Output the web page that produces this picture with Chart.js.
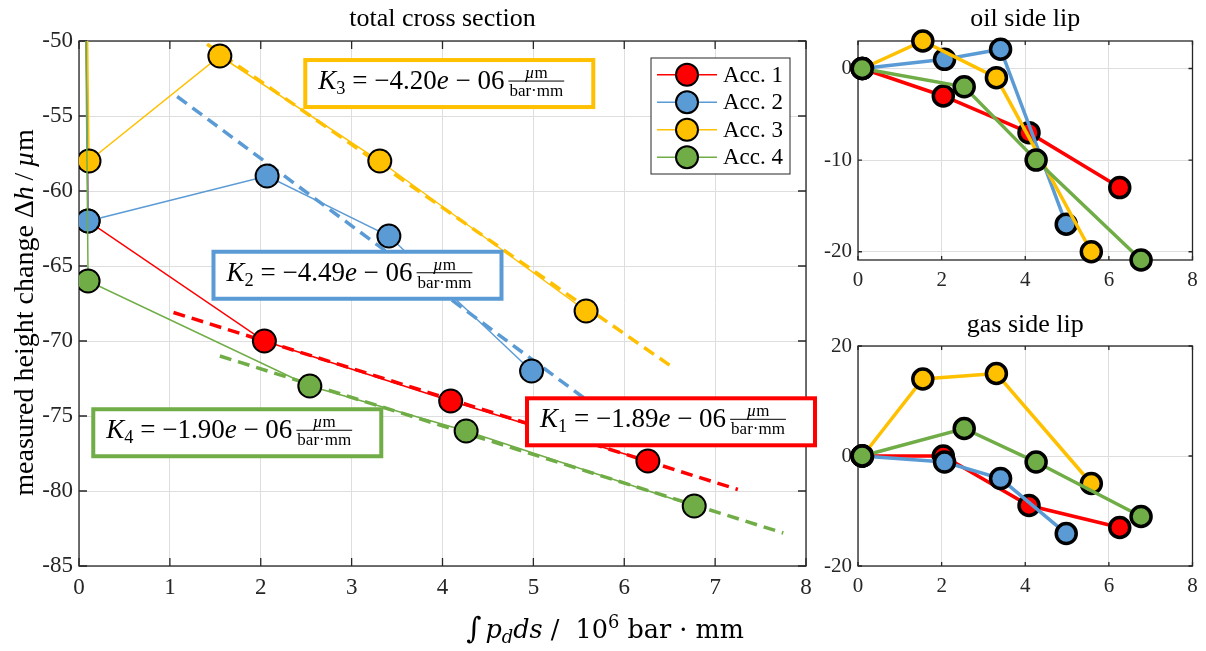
<!DOCTYPE html>
<html>
<head>
<meta charset="utf-8">
<script src="https://cdn.jsdelivr.net/npm/chart.js@4.4.1/dist/chart.umd.min.js"></script>
<style>
    body { margin: 0; background: #fff; width: 1206px; height: 651px; overflow: hidden; position: relative; }
    canvas { position: absolute; }
</style>
</head>
<body>
<canvas id="total" width="820" height="651" style="left:0;top:0"></canvas>
<canvas id="oil" width="406" height="300" style="left:800px;top:0"></canvas>
<canvas id="gas" width="406" height="351" style="left:800px;top:300px"></canvas>
<script>
/*----------------------------------------------------------------*/
// data (x in 10^6 bar*mm, heights in um)
const accLabels = ["Acc. 1", "Acc. 2", "Acc. 3", "Acc. 4"];
const accColors = ["#FF0000", "#5B9BD5", "#FFC000", "#70AD47"];

const xAcc1 = [0.1, 2.04, 4.09, 6.26];
const xAcc2 = [0.1, 2.07, 3.41, 4.98];
const xAcc3 = [0.11, 1.55, 3.31, 5.58];
const xAcc4 = [0.1, 2.54, 4.26, 6.77];

// total cross section, every series starts in (0, 0)
const startPoint = [0, 0];
const totalAcc1 = [-62, -70, -74, -78];
const totalAcc2 = [-62, -59, -63, -72];
const totalAcc3 = [-58, -51, -58, -68];
const totalAcc4 = [-66, -73, -76, -81];

// linear fits (dashed)
const fitX1 = [1.04, 7.25], fitY1 = [-68.1, -79.9];
const fitX2 = [1.08, 5.98], fitY2 = [-53.7, -75.7];
const fitX3 = [0.55, 6.52], fitY3 = [-46.6, -71.7];
const fitX4 = [1.55, 7.75], fitY4 = [-71.0, -82.8];
const kValues = [-1.89e-6, -4.49e-6, -4.20e-6, -1.90e-6];

const oilAcc1 = [0, -3, -7, -13];
const oilAcc2 = [0, 1, 2.1, -17];
const oilAcc3 = [0, 3, -1, -20];
const oilAcc4 = [0, -2, -10, -20.9];

const gasAcc1 = [0, 0, -9, -13];
const gasAcc2 = [0, -1.1, -4.1, -14.1];
const gasAcc3 = [0, 14, 15, -5];
const gasAcc4 = [0, 5, -1.1, -11];

const totalXTicks = [0, 1, 2, 3, 4, 5, 6, 7, 8];
const totalYTicks = [-85, -80, -75, -70, -65, -60, -55, -50];
const smallXTicks = [0, 2, 4, 6, 8];
const oilYTicks = [-20, -10, 0];
const gasYTicks = [-20, 0, 20];

const accX = [xAcc1, xAcc2, xAcc3, xAcc4];
const accTotal = [totalAcc1, totalAcc2, totalAcc3, totalAcc4];
const accOil = [oilAcc1, oilAcc2, oilAcc3, oilAcc4];
const accGas = [gasAcc1, gasAcc2, gasAcc3, gasAcc4];
const fitX = [fitX1, fitX2, fitX3, fitX4];
const fitY = [fitY1, fitY2, fitY3, fitY4];

// K boxes, top-left corner in data units of the big plot
const kBoxAt = [[4.93, -73.82], [1.48, -64.05], [2.49, -51.27], [0.157, -74.55]];

/*----------------------------------------------------------------*/
const SERIF = "'Liberation Serif', 'Times New Roman', serif";
const AXIS = '#262626';
Chart.defaults.font.family = SERIF;
Chart.defaults.color = AXIS;
Chart.defaults.animation = false;

function setFont(ctx, size, italic, family) {
    ctx.font = (italic ? 'italic ' : '') + size + 'px ' + (family || SERIF);
}
function runsWidth(ctx, runs, size, family) {
    let w = 0;
    runs.forEach(r => { setFont(ctx, size * (r.s || 1), r.i, family); w += ctx.measureText(r.t).width; });
    return w;
}
function drawRuns(ctx, runs, x, y, size, family) {
    ctx.textAlign = 'left';
    ctx.textBaseline = 'alphabetic';
    runs.forEach(r => {
        setFont(ctx, size * (r.s || 1), r.i, family);
        ctx.fillText(r.t, x, y + (r.dy || 0));
        x += ctx.measureText(r.t).width;
    });
    return x;
}
function pts(xs, ys) {
    return xs.map((x, j) => ({ x: x, y: ys[j] }));
}

// box round the axes with ticks pointing inwards, like matlab
function axesBox(len, width) {
    return {
        id: 'axesBox',
        beforeDatasetsDraw(chart) {
            const { ctx, chartArea: a, scales } = chart;
            ctx.save();
            ctx.strokeStyle = AXIS;
            ctx.lineWidth = width;
            ctx.strokeRect(a.left, a.top, a.right - a.left, a.bottom - a.top);
            ctx.beginPath();
            scales.x.ticks.forEach(t => {
                const px = scales.x.getPixelForValue(t.value);
                ctx.moveTo(px, a.bottom); ctx.lineTo(px, a.bottom - len);
                ctx.moveTo(px, a.top); ctx.lineTo(px, a.top + len);
            });
            scales.y.ticks.forEach(t => {
                const py = scales.y.getPixelForValue(t.value);
                ctx.moveTo(a.left, py); ctx.lineTo(a.left + len, py);
                ctx.moveTo(a.right, py); ctx.lineTo(a.right - len, py);
            });
            ctx.stroke();
            ctx.restore();
        }
    };
}
function titlePlugin(text, lift) {
    return {
        id: 'plotTitle',
        afterDraw(chart) {
            const { ctx, chartArea: a } = chart;
            ctx.save();
            setFont(ctx, 26);
            ctx.fillStyle = '#000';
            ctx.textAlign = 'center';
            ctx.textBaseline = 'alphabetic';
            ctx.fillText(text, (a.left + a.right) / 2, a.top - lift);
            ctx.restore();
        }
    };
}

/*----------------------------------------------------------------*/
// big plot: labels, legend and K boxes
const totalDecor = {
    id: 'totalDecor',
    afterDraw(chart) {
        const { ctx, chartArea: a, scales: { x, y } } = chart;
        ctx.save();
        ctx.fillStyle = '#000';

        // y label
        const yRuns = [{ t: 'measured height change ' }, { t: 'Δ' }, { t: 'h', i: true }, { t: '\u2009/\u2009' }, { t: 'µ', i: true }, { t: 'm' }];
        const yw = runsWidth(ctx, yRuns, 28);
        ctx.save();
        ctx.translate(33, (a.top + a.bottom) / 2 + 9);
        ctx.rotate(-Math.PI / 2);
        drawRuns(ctx, yRuns, -yw / 2, 0, 28);
        ctx.restore();

        // x label, centred on the whole figure
        const xf = "'DejaVu Serif', serif";
        const xRuns = [{ t: '∫', s: 1.15 }, { t: ' ' , s: 0.5}, { t: 'p', i: true }, { t: 'd', i: true, s: 0.7, dy: 5 }, { t: 'ds', i: true },
            { t: ' /  ' }, { t: '10' }, { t: '6', s: 0.7, dy: -10 }, { t: ' bar · mm' }];
        const xw = runsWidth(ctx, xRuns, 25.5, xf);
        drawRuns(ctx, xRuns, 605 - xw / 2, 638, 25.5, xf);

        // legend
        const lx = a.right - 155, ly = a.top + 17;
        ctx.fillStyle = '#fff';
        ctx.fillRect(lx, ly, 139, 116);
        ctx.strokeStyle = AXIS;
        ctx.lineWidth = 1;
        ctx.strokeRect(lx, ly, 139, 116);
        accLabels.forEach((lab, i) => {
            const cy = ly + 16.7 + i * 27.5;
            ctx.strokeStyle = accColors[i];
            ctx.lineWidth = 1.5;
            ctx.beginPath(); ctx.moveTo(lx + 6, cy); ctx.lineTo(lx + 66, cy); ctx.stroke();
            ctx.beginPath(); ctx.arc(lx + 36, cy, 11, 0, Math.PI * 2);
            ctx.fillStyle = accColors[i]; ctx.fill();
            ctx.strokeStyle = '#000'; ctx.lineWidth = 2; ctx.stroke();
            ctx.fillStyle = '#000';
            setFont(ctx, 23);
            ctx.textAlign = 'left';
            ctx.textBaseline = 'alphabetic';
            ctx.fillText(lab, lx + 72, cy + 7);
        });

        // K boxes
        kValues.forEach((k, i) => {
            const left = x.getPixelForValue(kBoxAt[i][0]);
            const top = y.getPixelForValue(kBoxAt[i][1]);
            ctx.fillStyle = '#fff';
            ctx.fillRect(left, top, 288, 47);
            ctx.strokeStyle = accColors[i];
            ctx.lineWidth = 4;
            ctx.strokeRect(left, top, 288, 47);
            ctx.fillStyle = '#000';
            const mant = (k * 1e6).toFixed(2).replace('-', '−');
            let cx = drawRuns(ctx, [{ t: 'K', i: true }, { t: String(i + 1), s: 0.68, dy: 5 }, { t: ' = ' }, { t: mant },
                { t: 'e', i: true }, { t: ' − 06' }], left + 13, top + 29, 27);
            cx += 4;
            const num = [{ t: 'µ', i: true }, { t: 'm' }];
            const den = [{ t: 'bar·mm' }];
            const nw = runsWidth(ctx, num, 17), dw = runsWidth(ctx, den, 17);
            const fw = Math.max(nw, dw) + 2;
            const barY = top + 21;
            drawRuns(ctx, num, cx + (fw - nw) / 2, barY - 3, 17);
            drawRuns(ctx, den, cx + (fw - dw) / 2, barY + 15, 17);
            ctx.strokeStyle = '#000';
            ctx.lineWidth = 1;
            ctx.beginPath(); ctx.moveTo(cx, barY); ctx.lineTo(cx + fw, barY); ctx.stroke();
        });
        ctx.restore();
    }
};

/*----------------------------------------------------------------*/
function scalesFor(xTicks, yTicks, xmin, xmax, ymin, ymax, yWidth, xHeight, fontSize) {
    const grid = { color: '#dedede', lineWidth: 1, drawTicks: false };
    return {
        x: {
            type: 'linear', min: xmin, max: xmax,
            afterBuildTicks: s => { s.ticks = xTicks.map(v => ({ value: v })); },
            afterFit: s => { s.height = xHeight; },
            grid: grid, border: { display: false },
            ticks: { color: AXIS, padding: 8, maxRotation: 0, font: { size: fontSize } }
        },
        y: {
            min: ymin, max: ymax,
            afterBuildTicks: s => { s.ticks = yTicks.map(v => ({ value: v })); },
            afterFit: s => { s.width = yWidth; },
            grid: grid, border: { display: false },
            ticks: { color: AXIS, padding: 6, font: { size: fontSize } }
        }
    };
}

// big plot
const totalSets = [];
accLabels.forEach((lab, i) => {
    totalSets.push({
        label: lab,
        data: [{ x: startPoint[0], y: startPoint[1] }].concat(pts(accX[i], accTotal[i])),
        showLine: true,
        borderColor: accColors[i],
        borderWidth: 1.5,
        pointBackgroundColor: accColors[i],
        pointBorderColor: '#000',
        pointBorderWidth: 2,
        pointRadius: 11.5,
        order: 4 - i
    });
});
accLabels.forEach((lab, i) => {
    totalSets.push({
        label: 'fit ' + lab,
        data: pts(fitX[i], fitY[i]),
        showLine: true,
        borderColor: accColors[i],
        borderWidth: 3.5,
        borderDash: [12, 7],
        pointRadius: 0,
        order: 10 - i
    });
});

new Chart(document.getElementById('total'), {
    type: 'scatter',
    data: { datasets: totalSets },
    options: {
        responsive: false,
        events: [],
        layout: { padding: { left: 0, top: 41, right: 14, bottom: 0 } },
        plugins: { legend: { display: false }, tooltip: { enabled: false } },
        scales: scalesFor(totalXTicks, totalYTicks, 0, 8, -85, -50, 79, 85, 23)
    },
    plugins: [axesBox(8, 1.3), titlePlugin('total cross section', 15), totalDecor]
});

/*----------------------------------------------------------------*/
// the two lip plots
function lipSets(values) {
    return accLabels.map((lab, i) => ({
        label: lab,
        data: pts(accX[i], values[i]),
        showLine: true,
        clip: false,
        borderColor: accColors[i],
        borderWidth: 3.5,
        pointBackgroundColor: accColors[i],
        pointBorderColor: '#000',
        pointBorderWidth: 3.5,
        pointRadius: 10,
        order: 4 - i
    }));
}

new Chart(document.getElementById('oil'), {
    type: 'scatter',
    data: { datasets: lipSets(accOil) },
    options: {
        responsive: false,
        events: [],
        layout: { padding: { left: 0, top: 41, right: 10, bottom: 0 } },
        plugins: { legend: { display: false }, tooltip: { enabled: false } },
        scales: scalesFor(smallXTicks, oilYTicks, 0, 8, -20.9, 3, 58, 40, 21)
    },
    plugins: [axesBox(4, 1.3), titlePlugin('oil side lip', 15)]
});

new Chart(document.getElementById('gas'), {
    type: 'scatter',
    data: { datasets: lipSets(accGas) },
    options: {
        responsive: false,
        events: [],
        layout: { padding: { left: 0, top: 46, right: 10, bottom: 0 } },
        plugins: { legend: { display: false }, tooltip: { enabled: false } },
        scales: scalesFor(smallXTicks, gasYTicks, 0, 8, -20, 20, 58, 85, 21)
    },
    plugins: [axesBox(4, 1.3), titlePlugin('gas side lip', 14)]
});
</script>
</body>
</html>
